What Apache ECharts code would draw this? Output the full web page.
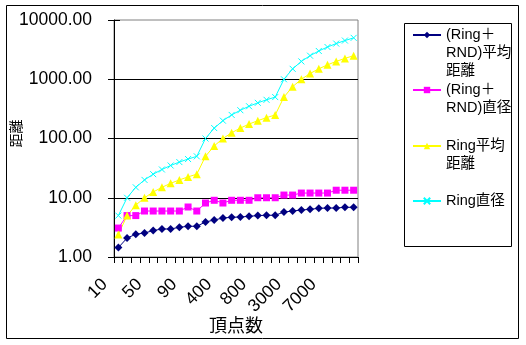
<!DOCTYPE html>
<html>
<head>
<meta charset="utf-8">
<script src="https://cdn.jsdelivr.net/npm/echarts@6/dist/echarts.min.js"></script>
<style>
html,body{margin:0;padding:0;background:#fff;}
#chart{width:526px;height:345px;}
</style>
</head>
<body>
<div id="chart"></div>
<script>
// ---- data ----
const categories = ['10','20','30','40','50','60','70','80','90','100','200','300','400','500','600','700','800','900','1000','2000','3000','4000','5000','6000','7000','8000','9000','10000'];
const rndAvgDist = [1.44,2.09,2.42,2.54,2.79,2.97,2.97,3.17,3.30,3.30,3.90,4.21,4.55,4.68,4.73,4.86,5.00,5.06,5.06,5.74,5.97,6.21,6.38,6.64,6.71,6.71,6.90,6.90];
const rndDiameter = [3.08,5.0,5.0,5.97,5.97,5.97,5.97,5.97,6.98,5.97,8.15,9.06,8.15,9.06,9.06,9.06,10.0,10.0,10.0,11.1,11.1,12.0,12.0,12.0,12.0,13.4,13.4,13.4];
const ringAvgDist = [2.4,5,7.5,10,12.5,15,17.5,20,22.5,25,50,75,100,125,150,175,200,225,250,500,750,1000,1250,1500,1750,2000,2250,2500];
const ringDiameter = [5,10,15,20,25,30,35,40,45,50,100,150,200,250,300,350,400,450,500,1000,1500,2000,2500,3000,3500,4000,4500,5000];
const seriesNames = ['(Ring＋\nRND)平均\n距離','(Ring＋\nRND)直径','Ring平均\n距離','Ring直径'];
const xAxisTitle = '頂点数';
const yAxisTitle = '距離';

const latin = "'Liberation Sans', 'Noto Sans CJK JP', sans-serif";
const chart = echarts.init(document.getElementById('chart'), null, {renderer:'canvas'});

const crossPath = 'path://M0,0L10,10M10,0L0,10';
const LH = 18;
// icon centre y wanted for each legend entry (first text line aligned with icon)
const legendIconY = [35, 90, 146, 201];

const legends = seriesNames.map((n, i) => {
  const lines = n.split('\n').length;
  const total = 2 * lines - 1;
  return {
    show: true,
    data: [n],
    orient: 'vertical',
    left: 412,
    top: legendIconY[i] - total * LH / 2,
    padding: 0,
    itemWidth: 28,
    itemHeight: 8,
    selectedMode: false,
    formatter: name => '\n'.repeat(lines - 1) + name,
    textStyle: {fontFamily: latin, fontSize: 14.5, color: '#000', lineHeight: LH}
  };
});

function mk(name, data, color, symbol, size, extraItem) {
  return {
    name: name, type: 'line', data: data,
    symbol: symbol, symbolSize: size, showSymbol: true, showAllSymbol: true,
    lineStyle: {color: color, width: 1},
    itemStyle: Object.assign({color: color}, extraItem || {}),
    emphasis: {disabled: true},
    animation: false
  };
}

chart.setOption({
  backgroundColor: '#fff',
  animation: false,
  grid: {left: 114, top: 20, right: 168, bottom: 88, show: true, borderColor: '#808080', borderWidth: 1, backgroundColor: 'transparent'},
  legend: legends,
  xAxis: {
    type: 'category', data: categories, boundaryGap: true,
    name: xAxisTitle, nameLocation: 'middle', nameGap: 59, nameMoveOverlap: false,
    nameTextStyle: {fontFamily: "'Noto Sans CJK JP', sans-serif", fontSize: 18, color: '#000'},
    axisLine: {show: true, lineStyle: {color: '#000', width: 1}},
    axisTick: {show: true, interval: 0, length: 6, lineStyle: {color: '#000'}},
    axisLabel: {interval: 3, rotate: 45, margin: 11, fontFamily: latin, fontSize: 17.5, color: '#000',
      formatter: v => v + '    '},
    splitLine: {show: false}
  },
  yAxis: [{
    type: 'log', logBase: 10, min: 1, max: 10000,
    name: yAxisTitle, nameLocation: 'middle', nameGap: 91, nameRotate: 90, nameMoveOverlap: false,
    nameTextStyle: {fontFamily: "'Noto Sans CJK JP', sans-serif", fontSize: 14, color: '#000', padding: [0, 0, 0, 10]},
    axisLine: {show: true, lineStyle: {color: '#000', width: 1}},
    axisTick: {show: true, length: 6, lineStyle: {color: '#000'}},
    axisLabel: {margin: 22, fontFamily: latin, fontSize: 17.5, color: '#000', formatter: v => Number(v).toFixed(2)},
    splitLine: {show: true, showMaxLine: false, showMinLine: false, lineStyle: {color: '#000', width: 1}}
  }, {
    type: 'log', logBase: 10, min: 1, max: 10000, position: 'left',
    axisLine: {show: false},
    axisTick: {show: true, inside: true, length: 6, lineStyle: {color: '#000'}},
    axisLabel: {show: false},
    splitLine: {show: false}
  }],
  series: [
    mk(seriesNames[0], rndAvgDist, '#000080', 'diamond', 8),
    mk(seriesNames[1], rndDiameter, '#ff00ff', 'rect', 7),
    mk(seriesNames[2], ringAvgDist, '#ffff00', 'triangle', 8),
    mk(seriesNames[3], ringDiameter, '#00ffff', crossPath, 6, {borderColor: '#00ffff', borderWidth: 1})
  ],
  graphic: [
    {type: 'rect', shape: {x: 6.5, y: 5.5, width: 512, height: 333}, style: {fill: 'none', stroke: '#000', lineWidth: 1}, silent: true, z: 100},
    {type: 'rect', shape: {x: 404.5, y: 23.5, width: 107, height: 223}, style: {fill: 'none', stroke: '#000', lineWidth: 1}, silent: true, z: 100}
  ]
});
</script>
</body>
</html>
